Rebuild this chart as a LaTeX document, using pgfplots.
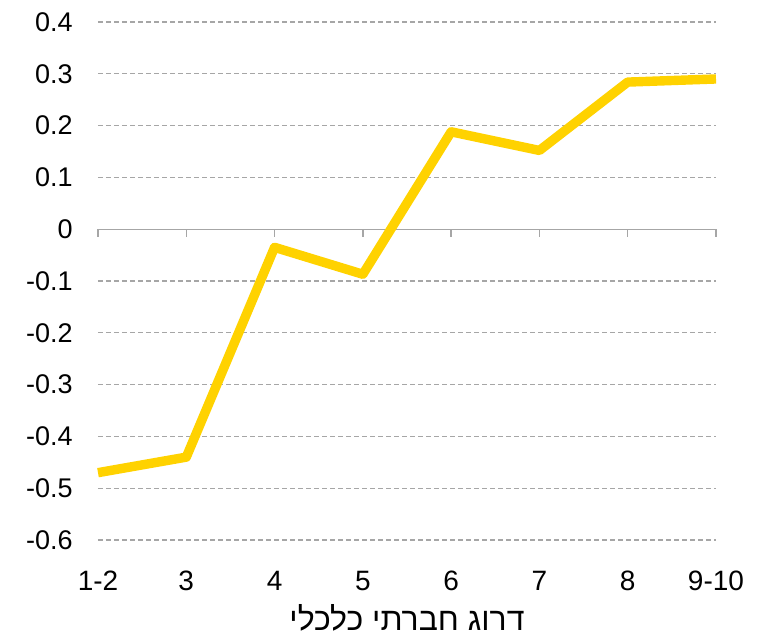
\documentclass[border=0pt]{standalone}
\usepackage{fontspec}
\setmainfont{Liberation Sans}
\newfontfamily\hebfont[Script=Hebrew]{Liberation Sans}
\TeXXeTstate=1
\usepackage{pgfplots}
\pgfplotsset{compat=1.18}
\definecolor{linegold}{HTML}{FFD200}
\definecolor{gridgray}{HTML}{A6A6A6}
\begin{document}
\begin{tikzpicture}
\begin{axis}[
    scale only axis,
    width=309pt, height=259pt,
    xmin=0, xmax=7,
    ymin=-0.6, ymax=0.4,
    axis line style={draw=none},
    tick style={draw=none},
    xtick={0,...,7},
    xticklabels={1-2,3,4,5,6,7,8,9-10},
    ytick={-0.6,-0.5,...,0.4},
    yticklabels={-0.6,-0.5,-0.4,-0.3,-0.2,-0.1,0,0.1,0.2,0.3,0.4},
    major tick length=0pt,
    ymajorgrids,
    grid style={gridgray, dash pattern=on 2.5pt off 1.5pt, line width=0.6pt},
    yticklabel style={anchor=east, inner sep=0pt, xshift=-12.5pt, font=\fontsize{13.5}{15}\selectfont},
    xticklabel style={anchor=base, inner sep=0pt, yshift=-25pt, font=\fontsize{14}{16}\selectfont},
    clip=false,
]
\draw[gridgray, line width=0.7pt] (axis cs:0,0) -- (axis cs:7,0);
\pgfplotsinvokeforeach{0,...,7}{
    \draw[gridgray, line width=0.7pt] (axis cs:#1,0) -- ([yshift=-4pt]axis cs:#1,0);
}
\addplot[linegold, line width=4.7pt, line join=round] coordinates {
    (0,-0.47)
    (1,-0.44)
    (2,-0.035)
    (3,-0.087)
    (4,0.188)
    (5,0.152)
    (6,0.284)
    (7,0.290)
};
\node[font=\fontsize{16}{18}\hebfont, anchor=center, yshift=-39pt] at (rel axis cs:0.5,0) {\beginR דרוג חברתי כלכלי\endR};
\end{axis}
\pgfresetboundingbox
\path (-49pt,-49pt) rectangle (332.5pt,270pt);
\end{tikzpicture}
\end{document}
